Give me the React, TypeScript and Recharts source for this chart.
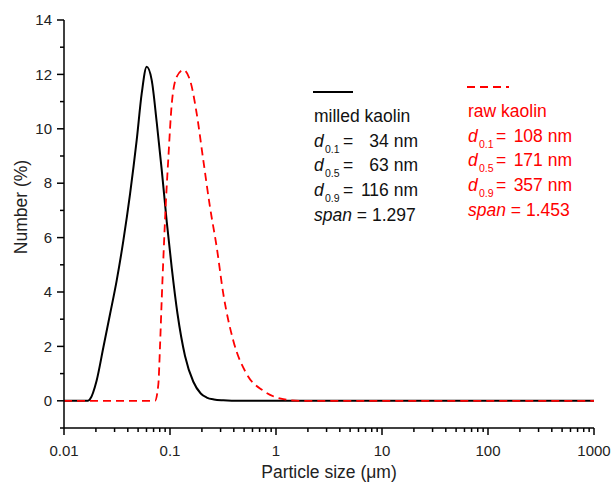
import { Line, LineChart, XAxis, YAxis } from "recharts";

// milled kaolin (black, solid)
const sizeMilled = [0.01, 0.0168, 0.0176, 0.0203, 0.0235, 0.0272, 0.0314, 0.0363, 0.042, 0.0485, 0.0541, 0.0603, 0.0672, 0.0749, 0.0835, 0.0931, 0.1038, 0.1177, 0.1386, 0.166, 0.195, 0.222, 0.26, 0.318, 0.46, 1, 10, 100, 1000];
const numberMilled = [0, 0, 0.06, 0.74, 1.96, 3.19, 4.42, 5.89, 7.61, 9.58, 11.3, 12.28, 11.79, 10.25, 8.5, 6.6, 4.9, 3.2, 1.65, 0.7, 0.27, 0.12, 0.05, 0.02, 0, 0, 0, 0, 0];

// raw kaolin (red, dashed)
const sizeRaw = [0.01, 0.0722, 0.0776, 0.0805, 0.0835, 0.0865, 0.0917, 0.0964, 0.1038, 0.1156, 0.1335, 0.1544, 0.1786, 0.2062, 0.2384, 0.2758, 0.3184, 0.3956, 0.5292, 0.7586, 1.172, 1.68, 10, 100, 1000];
const numberRaw = [0, 0, 0.6, 2.0, 3.7, 5.2, 7.4, 8.9, 10.9, 11.91, 12.16, 11.79, 10.56, 8.84, 7.12, 5.65, 3.93, 2.21, 0.98, 0.37, 0.06, 0, 0, 0, 0];

const xDecades = [0.01, 0.1, 1, 10, 100, 1000];
const xDecadeLabels = ["0.01", "0.1", "1", "10", "100", "1000"];
const xMinorSteps = [2, 3, 4, 5, 6, 7, 8, 9];
const yMajorTicks = [0, 2, 4, 6, 8, 10, 12, 14];
const yMinorTicks = [-1, 1, 3, 5, 7, 9, 11, 13];

const milledStats = [
  { sub: "0.1", value: "34 nm" },
  { sub: "0.5", value: "63 nm" },
  { sub: "0.9", value: "116 nm" },
];
const rawStats = [
  { sub: "0.1", value: "108 nm" },
  { sub: "0.5", value: "171 nm" },
  { sub: "0.9", value: "357 nm" },
];
const milledSpan = "1.297";
const rawSpan = "1.453";

const FONT = "'Liberation Sans', Arial, sans-serif";
const RED = "#ff0000";

const rows = new Map<number, { size: number; milled?: number; raw?: number }>();
sizeMilled.forEach((s, i) => rows.set(s, { ...(rows.get(s) || { size: s }), milled: numberMilled[i] }));
sizeRaw.forEach((s, i) => rows.set(s, { ...(rows.get(s) || { size: s }), raw: numberRaw[i] }));
const data = [...rows.values()].sort((a, b) => a.size - b.size);

const xTicks = [
  ...xDecades,
  ...xDecades.slice(0, -1).flatMap((d) => xMinorSteps.map((m) => +(d * m).toPrecision(3))),
].sort((a, b) => a - b);
const yTicks = [...yMajorTicks, ...yMinorTicks].sort((a, b) => a - b);

const isMajorX = (v: number) => xDecades.includes(v);

function BottomTick(props: any) {
  const { x, y, payload } = props;
  const major = isMajorX(payload.value);
  const idx = xDecades.indexOf(payload.value);
  return (
    <g>
      <line x1={x} x2={x} y1={y} y2={y + (major ? 7 : 4)} stroke="#000" strokeWidth={1.5} />
      {major && (
        <text x={x} y={y + 28} textAnchor="middle" fontSize={15} fontFamily={FONT} fill="#222">
          {xDecadeLabels[idx]}
        </text>
      )}
    </g>
  );
}

function TopTick(props: any) {
  const { x, y, payload } = props;
  const major = isMajorX(payload.value);
  return <line x1={x} x2={x} y1={y} y2={y + (major ? 7 : 4)} stroke="#000" strokeWidth={1.5} />;
}

function LeftTick(props: any) {
  const { x, y, payload } = props;
  const major = yMajorTicks.includes(payload.value);
  return (
    <g>
      <line x1={x} x2={x - (major ? 7 : 4)} y1={y} y2={y} stroke="#000" strokeWidth={1.5} />
      {major && (
        <text x={x - 12} y={y} dy="0.35em" textAnchor="end" fontSize={15} fontFamily={FONT} fill="#222">
          {payload.value}
        </text>
      )}
    </g>
  );
}

function RightTick(props: any) {
  const { x, y, payload } = props;
  const major = yMajorTicks.includes(payload.value);
  return <line x1={x} x2={x - (major ? 7 : 4)} y1={y} y2={y} stroke="#000" strokeWidth={1.5} />;
}

function StatBlock({
  x, eqX, endX, top, color, title, stats, span,
}: {
  x: number; eqX: number; endX: number; top: number; color: string;
  title: string; stats: { sub: string; value: string }[]; span: string;
}) {
  const step = 24.7;
  return (
    <g fontFamily={FONT} fontSize={17.5} fill={color}>
      <text x={x} y={top}>{title}</text>
      {stats.map((s, i) => {
        const by = top + step * (i + 1);
        return (
          <g key={s.sub}>
            <text x={x} y={by} fontStyle="italic">d</text>
            <text x={x + 11} y={by + 6} fontSize={10.5}>{s.sub}</text>
            <text x={eqX} y={by}>=</text>
            <text x={endX} y={by} textAnchor="end">{s.value}</text>
          </g>
        );
      })}
      <text x={x} y={top + step * 4}>
        <tspan fontStyle="italic">span</tspan> = {span}
      </text>
    </g>
  );
}

export default function App() {
  const W = 611;
  const H = 488;
  return (
    <div style={{ position: "absolute", left: 0, top: 0, width: W, height: H, background: "#fff" }}>
      <LineChart width={W} height={H} data={data} margin={{ top: 20, right: 17, bottom: 0, left: 0 }}>
        <XAxis
          dataKey="size"
          type="number"
          scale="log"
          domain={[0.01, 1000]}
          ticks={xTicks}
          interval={0}
          allowDataOverflow
          height={60}
          tickLine={false}
          tickSize={0}
          tickMargin={0}
          tick={<BottomTick />}
          axisLine={{ stroke: "#000", strokeWidth: 1.5 }}
        />
        <XAxis
          xAxisId="top"
          orientation="top"
          dataKey="size"
          type="number"
          scale="log"
          domain={[0.01, 1000]}
          ticks={xTicks}
          interval={0}
          allowDataOverflow
          height={0}
          tickLine={false}
          tickSize={0}
          tickMargin={0}
          tick={<TopTick />}
          axisLine={{ stroke: "#000", strokeWidth: 1.5 }}
        />
        <YAxis
          type="number"
          domain={[-1, 14]}
          ticks={yTicks}
          interval={0}
          width={64}
          tickLine={false}
          tickSize={0}
          tickMargin={0}
          tick={<LeftTick />}
          axisLine={{ stroke: "#000", strokeWidth: 1.5 }}
        />
        <YAxis
          yAxisId="right"
          orientation="right"
          type="number"
          domain={[-1, 14]}
          ticks={yTicks}
          interval={0}
          width={0}
          tickLine={false}
          tickSize={0}
          tickMargin={0}
          tick={<RightTick />}
          axisLine={{ stroke: "#000", strokeWidth: 1.5 }}
        />
        <Line
          type="monotone"
          dataKey="milled"
          stroke="#000"
          strokeWidth={2}
          dot={false}
          connectNulls
          isAnimationActive={false}
        />
        <Line
          type="monotone"
          dataKey="raw"
          stroke={RED}
          strokeWidth={1.8}
          strokeDasharray="8 5"
          dot={false}
          connectNulls
          isAnimationActive={false}
        />
      </LineChart>
      <svg width={W} height={H} style={{ position: "absolute", left: 0, top: 0, pointerEvents: "none" }}>
        <text
          transform="translate(21 207) rotate(-90)"
          textAnchor="middle"
          dominantBaseline="central"
          fontSize={17.5}
          fontFamily={FONT}
          fill="#222"
        >
          Number (%)
        </text>
        <text x={329} y={478} textAnchor="middle" fontSize={17.5} fontFamily={FONT} fill="#222">
          Particle size (μm)
        </text>
        <line x1={313} x2={353} y1={92} y2={92} stroke="#000" strokeWidth={2} />
        <line x1={467} x2={509} y1={87} y2={87} stroke={RED} strokeWidth={1.8} strokeDasharray="8 5" />
        <StatBlock x={314} eqX={343} endX={418} top={122} color="#111" title="milled kaolin" stats={milledStats} span={milledSpan} />
        <StatBlock x={468} eqX={496} endX={572} top={117} color={RED} title="raw kaolin" stats={rawStats} span={rawSpan} />
      </svg>
    </div>
  );
}
